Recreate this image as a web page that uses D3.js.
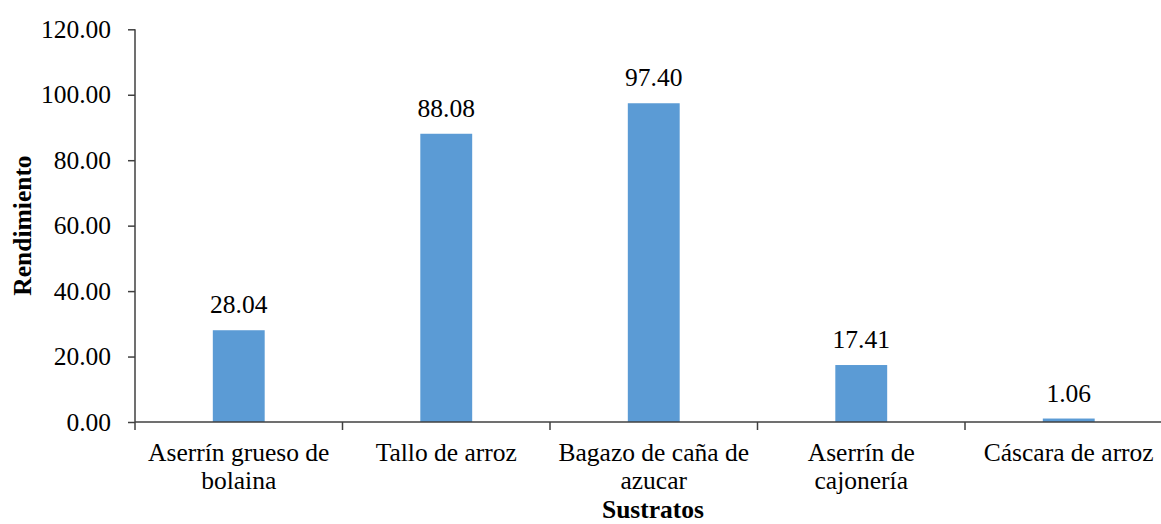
<!DOCTYPE html>
<html>
<head>
<meta charset="utf-8">
<script src="https://cdn.jsdelivr.net/npm/d3@7"></script>
<style>
  html, body { margin: 0; padding: 0; background: #fff; }
  svg { display: block; }
</style>
</head>
<body>
<script>
const categories = [
  ["Aserrín grueso de", "bolaina"],
  ["Tallo de arroz"],
  ["Bagazo de caña de", "azucar"],
  ["Aserrín de", "cajonería"],
  ["Cáscara de arroz"]
];
const values = [28.04, 88.08, 97.40, 17.41, 1.06];
const yTicks = [0, 20, 40, 60, 80, 100, 120];
const yTitle = "Rendimiento";
const xTitle = "Sustratos";

(function () {
const W = 1161, H = 524;
const FONT = "'Times New Roman', 'Liberation Serif', Tinos, 'DejaVu Serif', serif";
const svg = d3.select("body").append("svg").attr("width", W).attr("height", H)
  .attr("font-family", FONT);

const mLeft = 135, mRight = 1172.5, mTop = 29.3, mBottom = 422;
const idx = categories.map((d, i) => i);
const x = d3.scaleBand().domain(idx).range([mLeft, mRight]).paddingInner(0).paddingOuter(0);
const y = d3.scaleLinear().domain([0, 120]).range([mBottom, mTop]);
const axisColor = "#404040";
const fs = 25.5;

// Y axis
const yAxis = svg.append("g").attr("transform", `translate(${mLeft},0)`)
  .call(d3.axisLeft(y).tickValues(yTicks).tickFormat(d3.format(".2f")).tickSize(7).tickPadding(17));
yAxis.attr("font-family", FONT).attr("font-size", fs);
yAxis.select(".domain").attr("stroke", axisColor).attr("stroke-width", 1.5).attr("d", `M0,${mTop}V${mBottom}`);
yAxis.selectAll(".tick line").attr("stroke", axisColor).attr("stroke-width", 1.5);
yAxis.selectAll(".tick text").attr("font-family", FONT).attr("font-size", fs).attr("fill", "#000");

// Bars
const bw = x.bandwidth() * 0.25;
svg.append("g").selectAll("rect").data(values).join("rect")
  .attr("x", (d, i) => x(i) + x.bandwidth() / 2 - bw / 2)
  .attr("y", d => y(d))
  .attr("width", bw)
  .attr("height", d => y(0) - y(d))
  .attr("fill", "#5B9BD5");

// X axis
const xAxis = svg.append("g").attr("transform", `translate(0,${mBottom})`);
xAxis.append("line").attr("x1", mLeft).attr("x2", W).attr("y1", 0).attr("y2", 0)
  .attr("stroke", axisColor).attr("stroke-width", 1.5);
const boundaries = idx.map(i => x(i)).concat([mRight]).filter(v => v <= W);
xAxis.selectAll("line.tk").data(boundaries).join("line").attr("class", "tk")
  .attr("x1", d => d).attr("x2", d => d).attr("y1", 0).attr("y2", 8)
  .attr("stroke", axisColor).attr("stroke-width", 1.5);

// Category labels
const lab = svg.append("g").selectAll("text").data(categories).join("text")
  .attr("text-anchor", "middle")
  .attr("font-family", FONT).attr("font-size", fs).attr("fill", "#000");
lab.each(function(lines, i) {
  const t = d3.select(this);
  lines.forEach((ln, j) => {
    t.append("tspan").attr("x", x(i) + x.bandwidth() / 2).attr("y", 461 + j * 27.5).text(ln);
  });
});

// Value labels
svg.append("g").selectAll("text").data(values).join("text")
  .attr("x", (d, i) => x(i) + x.bandwidth() / 2)
  .attr("y", d => y(d) - 17)
  .attr("text-anchor", "middle")
  .attr("font-family", FONT).attr("font-size", fs).attr("fill", "#000")
  .text(d => d3.format(".2f")(d));

// Titles
svg.append("text").attr("x", 653).attr("y", 518)
  .attr("text-anchor", "middle").attr("font-family", FONT).attr("font-size", fs).attr("font-weight", "bold")
  .text(xTitle);
svg.append("text").attr("transform", `translate(31,225.5) rotate(-90)`)
  .attr("text-anchor", "middle").attr("font-family", FONT).attr("font-size", fs).attr("font-weight", "bold")
  .text(yTitle);
})();
</script>
</body>
</html>
